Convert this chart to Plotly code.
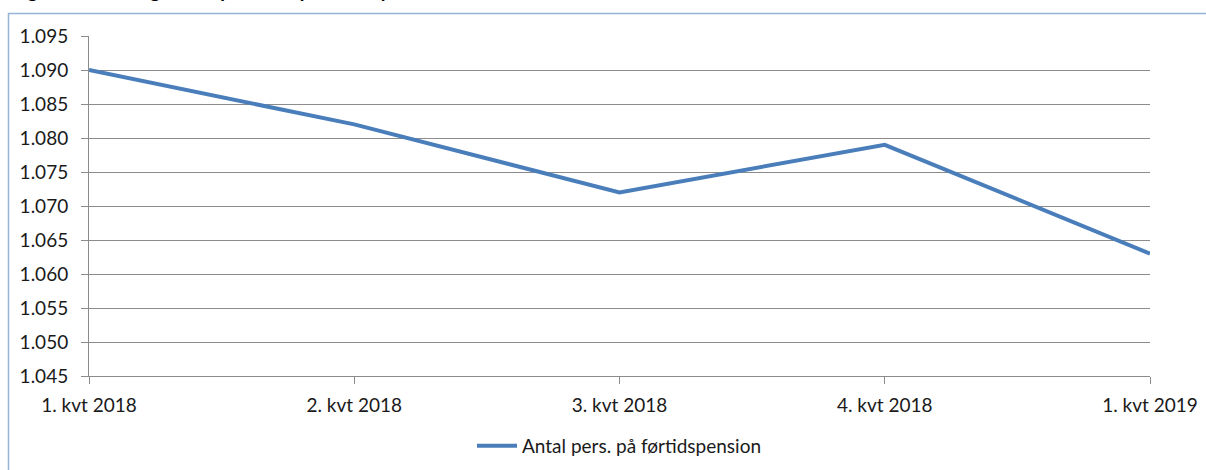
import plotly.graph_objects as go

# data
kvartaler = ["1. kvt 2018", "2. kvt 2018", "3. kvt 2018", "4. kvt 2018", "1. kvt 2019"]
antal = [1090, 1082, 1072, 1079, 1063]
serie_navn = "Antal pers. på førtidspension"
titel = "Figur 2: Udvikling i antal personer på førtidspension"

grid = "#8c8c8c"
fnt = dict(family="Lato, 'Open Sans', sans-serif", size=19, color="#1a1a1a")

fig = go.Figure()
fig.add_trace(go.Scatter(
    x=kvartaler, y=antal, name=serie_navn, mode="lines",
    line=dict(color="#4a7ebb", width=4)))

W, H = 1206, 470
L, R, T, B = 89, 56, 36, 94
pw, ph = W - L - R, H - T - B

def px_x(p):
    return (p - L) / pw

def px_y(p):
    return (H - B - p) / ph

# light blue frame round the chart (only top and left edge visible)
fig.add_shape(type="rect", xref="paper", yref="paper",
              x0=px_x(8.5), x1=px_x(1300), y0=px_y(13.5), y1=px_y(600),
              line=dict(color="#95b3d7", width=1.5), layer="below")

# title, mostly cut off above the picture
fig.add_annotation(text="<b>" + titel + "</b>", xref="paper", yref="paper",
                   x=px_x(10), y=px_y(4), xanchor="left", yanchor="bottom",
                   showarrow=False, font=dict(family="Lato, sans-serif", size=19, color="#000"))

fig.update_layout(
    width=W, height=H,
    margin=dict(l=L, r=R, t=T, b=B, autoexpand=False),
    paper_bgcolor="white", plot_bgcolor="white",
    separators=",.",
    font=fnt,
    showlegend=True,
    legend=dict(orientation="h", xref="container", yref="container",
                x=(L + pw / 2) / W, xanchor="center", y=1 - 446 / H, yanchor="middle",
                font=fnt, itemwidth=40),
)
fig.update_xaxes(type="category", range=[0, 4], showgrid=False, automargin=False,
                 showline=True, linecolor=grid, linewidth=1,
                 ticks="outside", ticklen=7, tickcolor=grid, tickfont=fnt,
                 ticklabelstandoff=5)
fig.update_yaxes(range=[1045, 1095], dtick=5, tickformat=",d", automargin=False,
                 showgrid=True, gridcolor=grid, gridwidth=1,
                 showline=True, linecolor=grid, linewidth=1, zeroline=False,
                 ticks="outside", ticklen=7, tickcolor=grid, tickfont=fnt,
                 ticklabelstandoff=9)

fig.write_html("out.html", config={"displayModeBar": False},
               post_script="document.body.style.margin='0px';")
